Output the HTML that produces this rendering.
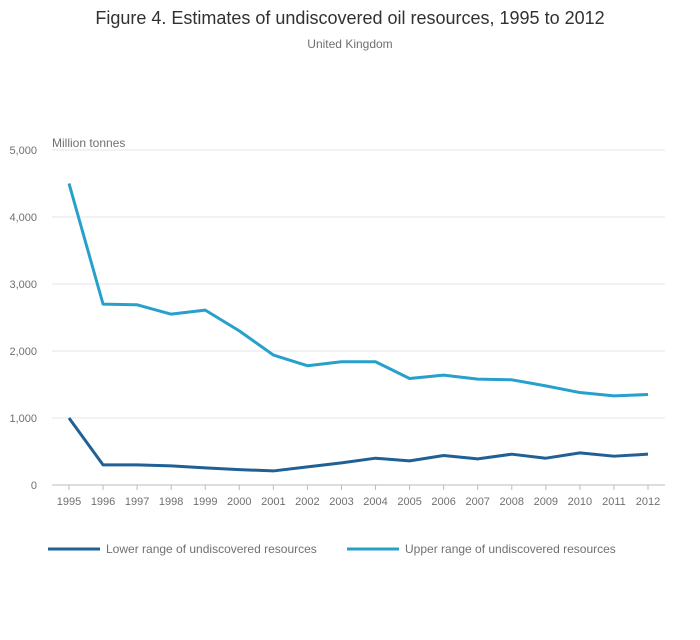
<!DOCTYPE html>
<html><head><meta charset="utf-8"><style>
body{margin:0;background:#fff;font-family:"Liberation Sans",sans-serif;}
svg text{font-family:"Liberation Sans",sans-serif;}
</style></head><body>
<svg id="chart" width="700" height="635" viewBox="0 0 700 635" xmlns="http://www.w3.org/2000/svg">
<text x="350" y="24" text-anchor="middle" font-size="18" fill="#323132">Figure 4. Estimates of undiscovered oil resources, 1995 to 2012</text>
<text x="350" y="48" text-anchor="middle" font-size="12" fill="#707071">United Kingdom</text>
<text x="52" y="147" font-size="12" fill="#707071">Million tonnes</text>
<g id="grid"></g><g id="yticks"></g><g id="xticks"></g><g id="lines"></g>
<g>
<line x1="48" y1="549" x2="100" y2="549" stroke="#206095" stroke-width="3"/>
<text x="106" y="553" font-size="12" fill="#707071">Lower range of undiscovered resources</text>
<line x1="347" y1="549" x2="399" y2="549" stroke="#27a0cc" stroke-width="3"/>
<text x="405" y="553" font-size="12" fill="#707071">Upper range of undiscovered resources</text>
</g>
</svg>
<script>
const years=[1995,1996,1997,1998,1999,2000,2001,2002,2003,2004,2005,2006,2007,2008,2009,2010,2011,2012];
const lowerRange=[1000,300,300,285,255,230,210,270,330,400,360,440,390,460,400,480,430,460];
const upperRange=[4500,2700,2690,2550,2610,2300,1940,1780,1840,1840,1590,1640,1580,1570,1480,1380,1330,1350];
const yTickValues=[0,1000,2000,3000,4000,5000];
const yTickLabels=["0","1,000","2,000","3,000","4,000","5,000"];
const NS="http://www.w3.org/2000/svg";
const x0=69,x1=648,yBase=485,yTop=150,yMax=5000;
const xs=i=>x0+(x1-x0)*i/(years.length-1);
const ys=v=>yBase-(yBase-yTop)*v/yMax;
function mk(t,a,p){const e=document.createElementNS(NS,t);for(const k in a)e.setAttribute(k,a[k]);p.appendChild(e);return e;}
const grid=document.getElementById('grid'),yt=document.getElementById('yticks'),xt=document.getElementById('xticks'),ln=document.getElementById('lines');
yTickValues.forEach((v,i)=>{
 const g=mk('line',{x1:52,x2:665,y1:ys(v),y2:ys(v),stroke:v===0?'#bbb':'#e6e6e6','stroke-width':1},grid);
 
 
 const t=mk('text',{x:37,y:ys(v)+4,'text-anchor':'end','font-size':11,fill:'#707071'},yt);
 t.textContent=yTickLabels[i];
 
 
});
years.forEach((y,i)=>{
 const k=mk('line',{x1:xs(i),x2:xs(i),y1:485,y2:490,stroke:'#bbb'},xt);
 
 
 const t=mk('text',{x:xs(i),y:505,'text-anchor':'middle','font-size':11,fill:'#707071'},xt);
 t.textContent=y;
 
 
});
function series(vals,col,name){
 const p=mk('path',{d:vals.map((v,i)=>(i?'L':'M')+xs(i)+','+ys(v)).join(''),fill:'none',stroke:col,'stroke-width':3,'stroke-linejoin':'round'},ln);
 
 
}
series(upperRange,'#27a0cc','upper-range-line');
series(lowerRange,'#206095','lower-range-line');
</script>
</body></html>
